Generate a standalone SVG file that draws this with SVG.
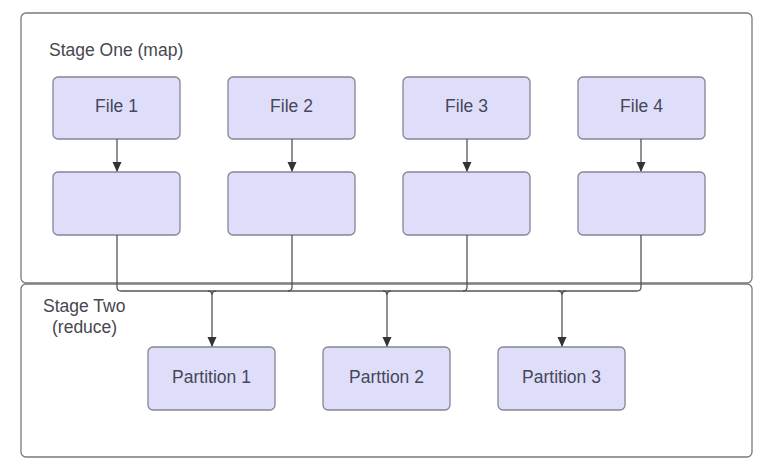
<svg xmlns="http://www.w3.org/2000/svg" width="770" height="470" viewBox="0 0 770 470">
<defs>
<style>
.container{fill:#ffffff;stroke:#7a7a7a;stroke-width:1.3}
.node{fill:#dedefa;stroke:#858595;stroke-width:1.3}
.label{font-family:"Liberation Sans",Arial,sans-serif;font-size:17.5px;fill:#474750}
.ntext{font-family:"Liberation Sans",Arial,sans-serif;font-size:17.5px;fill:#474758;text-anchor:middle;dominant-baseline:central}
.conn{fill:none;stroke:#555555;stroke-width:1.3}
</style>
<marker id="arr" viewBox="0 0 10 10" refX="9" refY="5" markerWidth="10" markerHeight="10" markerUnits="userSpaceOnUse" orient="auto">
<path d="M0,0.5 L10,5 L0,9.5 Z" fill="#333333"/>
</marker>
</defs>
<rect width="770" height="470" fill="#ffffff"/>
<g id="stage-one">
<rect class="container" x="21" y="13" width="731" height="270" rx="5"/>
<text class="label" x="49" y="56">Stage One (map)</text>
</g>
<g id="stage-two">
<rect class="container" x="21" y="284" width="731" height="173" rx="5"/>
<text class="label" x="43" y="312">Stage Two</text>
<text class="label" x="52" y="333">(reduce)</text>
</g>
<g id="file1"><rect class="node" x="53" y="77" width="127" height="62" rx="5"/><text class="ntext" x="116.5" y="106">File 1</text></g>
<g id="file2"><rect class="node" x="228" y="77" width="127" height="62" rx="5"/><text class="ntext" x="291.5" y="106">File 2</text></g>
<g id="file3"><rect class="node" x="403" y="77" width="127" height="62" rx="5"/><text class="ntext" x="466.5" y="106">File 3</text></g>
<g id="file4"><rect class="node" x="578" y="77" width="127" height="62" rx="5"/><text class="ntext" x="641.5" y="106">File 4</text></g>
<g id="map1"><rect class="node" x="53" y="172" width="127" height="63" rx="5"/></g>
<g id="map2"><rect class="node" x="228" y="172" width="127" height="63" rx="5"/></g>
<g id="map3"><rect class="node" x="403" y="172" width="127" height="63" rx="5"/></g>
<g id="map4"><rect class="node" x="578" y="172" width="127" height="63" rx="5"/></g>
<g id="partition1"><rect class="node" x="148" y="347" width="127" height="63" rx="5"/><text class="ntext" x="211.5" y="377">Partition 1</text></g>
<g id="partition2"><rect class="node" x="323" y="347" width="127" height="63" rx="5"/><text class="ntext" x="386.5" y="377">Parttion 2</text></g>
<g id="partition3"><rect class="node" x="498" y="347" width="127" height="63" rx="5"/><text class="ntext" x="561.5" y="377">Partition 3</text></g>
<g id="connectors">
<path class="conn" d="M117,139 V171" marker-end="url(#arr)"/>
<path class="conn" d="M292,139 V171" marker-end="url(#arr)"/>
<path class="conn" d="M467,139 V171" marker-end="url(#arr)"/>
<path class="conn" d="M641,139 V171" marker-end="url(#arr)"/>
<path class="conn" d="M117,235 V287 Q117,291 121,291 H637 Q641,291 641,287 V235"/>
<path class="conn" d="M292,235 V287 Q292,291 288,291"/>
<path class="conn" d="M467,235 V287 Q467,291 463,291"/>
<path class="conn" d="M208,291 Q212,291 212,295 V346" marker-end="url(#arr)"/>
<path class="conn" d="M383,291 Q387,291 387,295 V346" marker-end="url(#arr)"/>
<path class="conn" d="M558,291 Q562,291 562,295 V346" marker-end="url(#arr)"/>
<path class="conn" d="M216,291 Q212,291 212,295"/>
<path class="conn" d="M391,291 Q387,291 387,295"/>
<path class="conn" d="M566,291 Q562,291 562,295"/>
</g>
</svg>
